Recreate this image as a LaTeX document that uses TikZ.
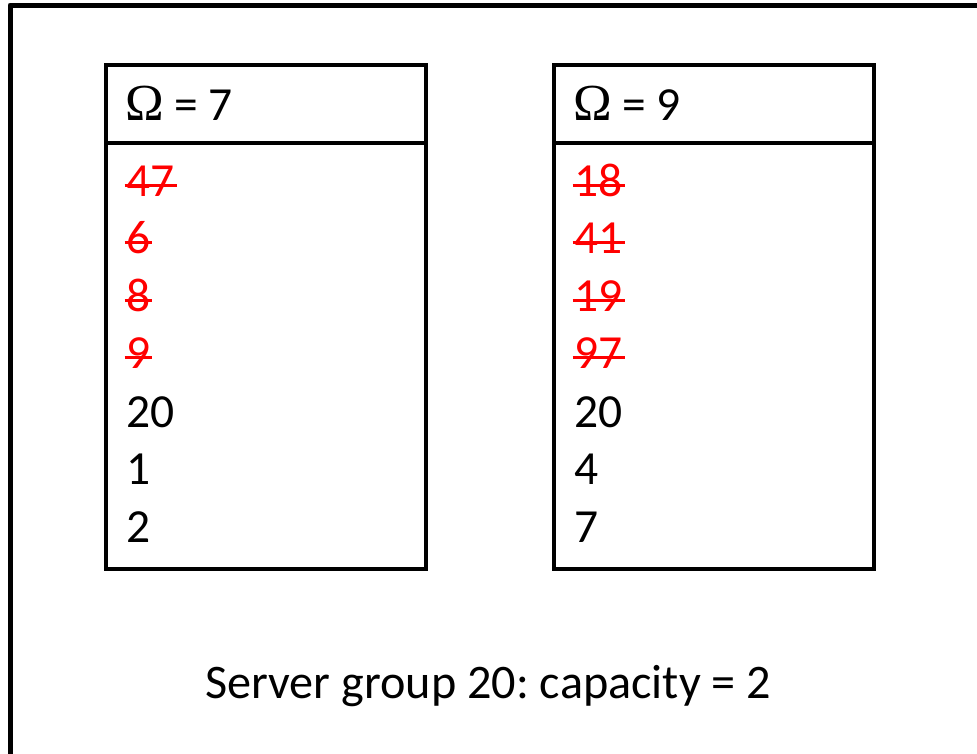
\documentclass[tikz,border=0pt]{standalone}
\usepackage{fontspec}
\setmainfont{Carlito}
\newfontfamily\omegafont{Liberation Serif}
\frenchspacing
\begin{document}
\begin{tikzpicture}[x=1pt,y=-1pt,
  boxframe/.style={draw, line width=4pt, minimum width=320pt, minimum height=504pt, anchor=north west, inner sep=0pt, outer sep=0pt},
  entry/.style={anchor=base west, inner sep=0pt, font=\fontsize{47.5}{52}\selectfont},
  struck/.style={entry, text=red},
  strikeline/.style={red, line width=3pt},
  divider/.style={line width=4pt}]
\useasboundingbox (0,0) rectangle (977,753);
\clip (0,0) rectangle (977,753);
% outer frame (extends beyond the picture)
\draw[line width=5pt, line join=round] (10,5) rectangle (1000,790);
% boxes
\node[boxframe] (boxA) at (106,65) {};
\node[boxframe] (boxB) at (554,65) {};
\coordinate (dA) at (106,143);
\coordinate (dB) at (554,143);
\draw[divider] (dA) -- (dA -| boxA.east);
\draw[divider] (dB) -- (dB -| boxB.east);
% headers
\node[entry] (hA) at (125,120) {{\omegafont\fontsize{52}{56}\selectfont Ω} = 7};
\node[entry] (hB) at (573,120) {{\omegafont\fontsize{52}{56}\selectfont Ω} = 9};
% left column
\foreach \v [count=\i] in {47,6,8,9} {
  \node[struck] (a\i) at (126,{196+57.5*(\i-1)}) {\v};
  \draw[strikeline] ([xshift=-1.5pt,yshift=11pt]a\i.base west) -- ([xshift=2pt,yshift=11pt]a\i.base east);
}
\node[entry] (a5) at (126,427) {20};
\node[entry] (a6) at (126,484.5) {1};
\node[entry] (a7) at (126,542) {2};
% right column
\foreach \v [count=\i] in {18,41,19,97} {
  \node[struck] (b\i) at (574,{196+57.5*(\i-1)}) {\v};
  \draw[strikeline] ([xshift=-1.5pt,yshift=11pt]b\i.base west) -- ([xshift=2pt,yshift=11pt]b\i.base east);
}
\node[entry] (b5) at (574,427) {20};
\node[entry] (b6) at (574,484.5) {4};
\node[entry] (b7) at (574,542) {7};
% caption
\node[anchor=base west, inner sep=0pt, font=\fontsize{48.2}{52}\selectfont] (cap) at (205,698) {Server group 20: capacity = 2};
\end{tikzpicture}
\end{document}
